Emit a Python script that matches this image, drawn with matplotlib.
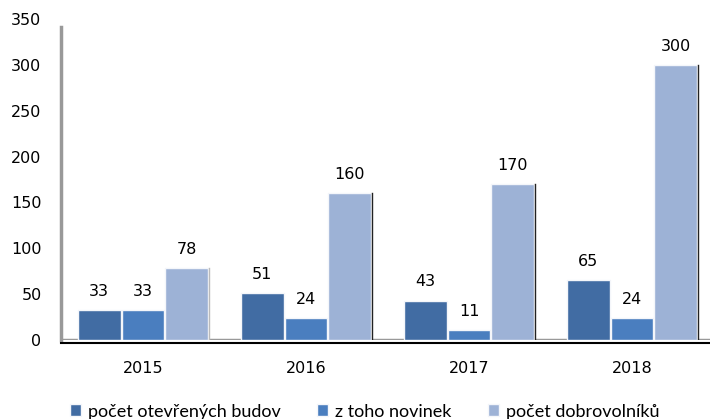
import matplotlib
matplotlib.use("Agg")
import matplotlib.pyplot as plt
import numpy as np

years = ["2015", "2016", "2017", "2018"]
series_names = ["počet otevřených budov", "z toho novinek", "počet dobrovolníků"]
budovy = [33, 51, 43, 65]
novinky = [33, 24, 11, 24]
dobrovolnici = [78, 160, 170, 300]
yticks = [0, 50, 100, 150, 200, 250, 300, 350]

colors = ["#416CA3", "#4A7EBF", "#9DB2D6"]

W, H = 710, 419
fig = plt.figure(figsize=(W / 100, H / 100), dpi=100)
ax = fig.add_axes([61 / W, 1 - 340 / H, (W - 61) / W, (340 - 19) / H])

x = np.arange(len(years))
bw = 0.262
offsets = [-0.268, 0.0, 0.268]
data = [budovy, novinky, dobrovolnici]
for i, (vals, col, name) in enumerate(zip(data, colors, series_names)):
    bars = ax.bar(x + offsets[i], vals, width=bw, color=col, edgecolor="#F4F6FA",
                  linewidth=1.0, label=name, zorder=3)
    for b, v in zip(bars, vals):
        ax.annotate(str(v), (b.get_x() + b.get_width() / 2, v), xytext=(0, 8),
                    textcoords="offset points", ha="center", va="bottom",
                    fontsize=11.5, color="#000000", family="DejaVu Sans")
        if i == 2:
            shade = "#222222" if v > 100 else "#BBBBBB"
            ax.plot([b.get_x() + b.get_width() + 0.008] * 2, [0, v], color=shade,
                    lw=1.0, zorder=4)

ax.set_xlim(-0.503, 3.478)
ax.set_ylim(0, 350)
ax.set_yticks(yticks)
ax.set_yticklabels([str(t) for t in yticks])
ax.set_xticks(x)
ax.set_xticklabels(years)
ax.tick_params(axis="both", length=0, labelsize=11.5)
ax.tick_params(axis="y", pad=14)
ax.tick_params(axis="x", pad=13)

for s in ["top", "right"]:
    ax.spines[s].set_visible(False)
ax.spines["left"].set_color("#999999")
ax.spines["left"].set_linewidth(2.5)
ax.spines["left"].set_bounds(0, 341)
ax.spines["bottom"].set_color("#000000")
ax.spines["bottom"].set_linewidth(1.5)
ax.spines["bottom"].set_position(("outward", 2))
ax.axhline(0, color="#999999", lw=2.5, zorder=2)

handles, labels = ax.get_legend_handles_labels()
leg = fig.legend(handles, labels, loc="lower left", bbox_to_anchor=(54 / W, -0.04),
                 ncol=3, frameon=False, handlelength=0.6,
                 handleheight=0.6, handletextpad=0.4, columnspacing=2.0,
                 prop={"family": "Lato", "size": 13})

fig.savefig("out.png", dpi=100)
